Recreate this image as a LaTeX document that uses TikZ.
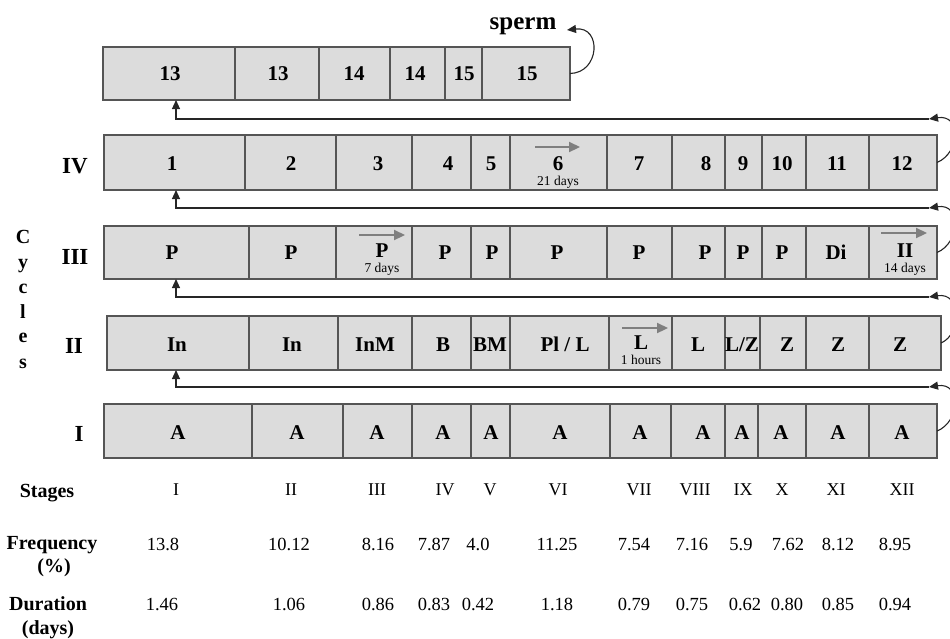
\documentclass[tikz,border=0pt]{standalone}
\usepackage{fontspec}
\setmainfont{Liberation Serif}
\usetikzlibrary{arrows.meta}
\definecolor{boxfill}{HTML}{DCDCDC}
\definecolor{boxline}{HTML}{555555}
\definecolor{arrgray}{HTML}{7F7F7F}
\begin{document}
\begin{tikzpicture}[x=1pt,y=-1pt,
  rowbox/.style={draw=boxline, fill=boxfill, line width=1.4pt, inner sep=0pt, outer sep=0pt},
  divider/.style={draw=boxline, line width=1.2pt},
  lab/.style={font=\bfseries\fontsize{21}{21}\selectfont, inner sep=0pt, anchor=base},
  sub/.style={font=\fontsize{13.5}{13.5}\selectfont, inner sep=0pt, anchor=base},
  rowname/.style={font=\bfseries\fontsize{23}{23}\selectfont, inner sep=0pt, anchor=base},
  cyc/.style={font=\bfseries\fontsize{20}{20}\selectfont, inner sep=0pt, anchor=base},
  head/.style={font=\bfseries\fontsize{20}{20}\selectfont, inner sep=0pt, anchor=base},
  stg/.style={font=\fontsize{18}{18}\selectfont, inner sep=0pt, anchor=base},
  num/.style={font=\fontsize{18.5}{18.5}\selectfont, inner sep=0pt, anchor=base},
  conn/.style={draw=black!85, line width=1.1pt, -{Triangle[length=9pt,width=8pt]}},
  garrow/.style={draw=arrgray, line width=2.2pt, -{Triangle[length=11pt,width=10pt]}},
]
\useasboundingbox (0,0) rectangle (950,638);
\clip (0,0) rectangle (950,638);

% ---------- top row (13..15)
\node[rowbox, minimum width=467pt, minimum height=53pt] (r5) at (336.5,73.5) {};
\foreach \x in {235,319,390,445,482} \draw[divider] (\x,47) -- (\x,100);
\foreach \x/\t [count=\i] in {170/13,278/13,354/14,415/14,464/15,527/15}
  \node[lab] (a\i) at (\x,80) {\t};
\node[font=\bfseries\fontsize{25}{25}\selectfont, inner sep=0pt, anchor=base] (sperm) at (523,29) {sperm};

% ---------- row IV
\node[rowbox, minimum width=833pt, minimum height=55pt] (r4) at (520.5,162.5) {};
\foreach \x in {245,336,412,471,510,607,672,725,762,806,869} \draw[divider] (\x,135) -- (\x,190);
\foreach \x/\t [count=\i] in {172/1,291/2,378/3,448/4,491/5,558/6,639/7,706/8,743/9,782/10,837/11,902/12}
  \node[lab] (b\i) at (\x,170) {\t};
\draw[garrow] (535,147) -- (580,147);
\node[sub] (b6s) at (558,185) {21 days};

% ---------- row III
\node[rowbox, minimum width=833pt, minimum height=53pt] (r3) at (520.5,252.5) {};
\foreach \x in {249,336,412,471,510,607,672,725,762,806,869} \draw[divider] (\x,226) -- (\x,279);
\foreach \x/\t [count=\i] in {172/P,291/P,445/P,492/P,557/P,639/P,705/P,743/P,782/P,836/Di}
  \node[lab] (c\i) at (\x,259) {\t};
\node[lab] (c3p) at (382,257) {P};
\node[sub] (c3s) at (382,272) {7 days};
\draw[garrow] (359,235) -- (405,235);
\node[lab] (c12) at (905,257) {II};
\node[sub] (c12s) at (905,272) {14 days};
\draw[garrow] (881,233) -- (927,233);

% ---------- row II
\node[rowbox, minimum width=834pt, minimum height=54pt] (r2) at (524,343) {};
\foreach \x in {249,338,412,471,510,609,672,725,760,806,869} \draw[divider] (\x,316) -- (\x,370);
\foreach \x/\t [count=\i] in {177/In,292/In,375/InM,443/B,490/BM,565/{Pl / L},698/L,742/{L/Z},787/Z,838/Z,900/Z}
  \node[lab] (d\i) at (\x,351) {\t};
\node[lab] (d7) at (641,349) {L};
\node[sub] (d7s) at (641,364) {1 hours};
\draw[garrow] (622,328) -- (668,328);

% ---------- row I
\node[rowbox, minimum width=833pt, minimum height=54pt] (r1) at (520.5,431) {};
\foreach \x in {252,343,412,471,510,610,671,725,758,806,869} \draw[divider] (\x,404) -- (\x,458);
\foreach \x [count=\i] in {178,297,377,443,491,560,640,703,742,781,838,902}
  \node[lab] (e\i) at (\x,439) {A};

% ---------- row names and "Cycles"
\node[rowname] (nIV) at (75,173) {IV};
\node[rowname] (nIII) at (75,264) {III};
\node[rowname] (nII) at (74,353) {II};
\node[rowname] (nI) at (79,441) {I};
\foreach \l/\y [count=\i] in {C/243,y/268,c/293,l/318,e/342,s/368}
  \node[cyc] (cy\i) at (23,\y) {\l};

% ---------- connectors
\coordinate (t5) at (176,100);
\coordinate (t4) at (176,190);
\coordinate (t3) at (176,279);
\coordinate (t2) at (176,370);
\coordinate (h5) at (929,119);
\coordinate (h4) at (929,208);
\coordinate (h3) at (929,297);
\coordinate (h2) at (929,387);
\coordinate (spt) at (567,30);

\draw[conn] (r5.east) .. controls (600,73) and (602,26) .. (spt);
\draw[conn] (r4.east) .. controls (960,153) and (962,114) .. (h5);
\draw[conn] (r3.east) .. controls (960,243) and (962,203) .. (h4);
\draw[conn] (r2.east) .. controls (962,334) and (962,292) .. (h3);
\draw[conn] (r1.east) .. controls (960,422) and (962,382) .. (h2);
\draw[conn] (h5) -| (t5);
\draw[conn] (h4) -| (t4);
\draw[conn] (h3) -| (t3);
\draw[conn] (h2) -| (t2);

% ---------- table
\node[head] (hs) at (47,497) {Stages};
\node[head] (hf) at (52,549) {Frequency};
\node[head] (hf2) at (54,572) {(\%)};
\node[head] (hd) at (48,610) {Duration};
\node[head] (hd2) at (48,634) {(days)};
\foreach \x/\t [count=\i] in {176/I,291/II,377/III,445/IV,490/V,558/VI,639/VII,695/VIII,743/IX,782/X,836/XI,902/XII}
  \node[stg] (s\i) at (\x,495) {\t};
\foreach \x/\t [count=\i] in {163/13.8,289/10.12,378/8.16,434/7.87,478/4.0,557/11.25,634/7.54,692/7.16,741/5.9,788/7.62,838/8.12,895/8.95}
  \node[num] (f\i) at (\x,550) {\t};
\foreach \x/\t [count=\i] in {162/1.46,289/1.06,378/0.86,434/0.83,478/0.42,557/1.18,634/0.79,692/0.75,745/0.62,787/0.80,838/0.85,895/0.94}
  \node[num] (u\i) at (\x,610) {\t};
\end{tikzpicture}
\end{document}
